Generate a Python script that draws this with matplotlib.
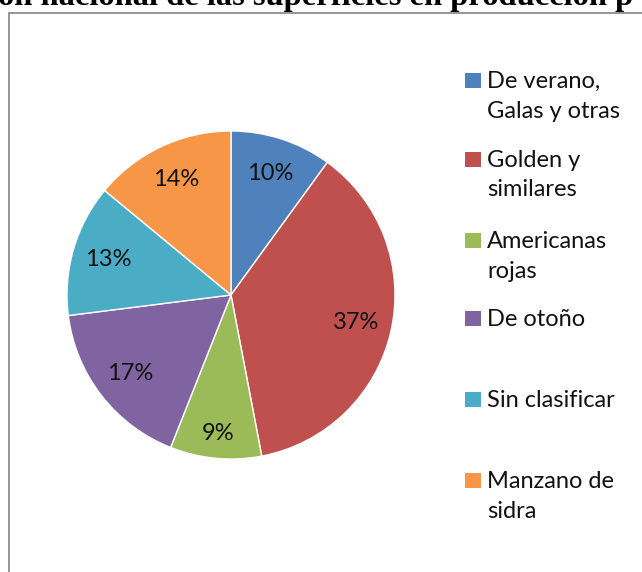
import numpy as np
import matplotlib.pyplot as plt
from matplotlib.patches import Rectangle

# superficie en producción por grupo de variedades (%)
variedades = ['De verano,\nGalas y otras', 'Golden y\nsimilares', 'Americanas\nrojas',
              'De otoño', 'Sin clasificar', 'Manzano de\nsidra']
porcentajes = [10, 37, 9, 17, 13, 14]
colores = ['#4F81BD', '#C0504D', '#9BBB59', '#8064A2', '#4BACC6', '#F79646']
titulo = 'on nacional de las superficies en producción p'

W, H = 642, 572
fig = plt.figure(figsize=(W / 100, H / 100), dpi=100)

def fx(px):
    return px / W

def fy(py):
    return 1 - py / H

# cut-off title above the chart frame
fig.text(fx(-2), fy(5), titulo, family='Liberation Serif', weight='bold',
         fontsize=23.4, ha='left', va='baseline', color='black')

# chart frame (runs past the right and bottom edges)
fig.patches.append(Rectangle((fx(9), fy(600)), fx(700), fy(13) - fy(600),
                             transform=fig.transFigure, fill=False,
                             edgecolor='#8c8c8c', lw=1.3))

# pie
cx, cy, r = 231, 295, 164
ax = fig.add_axes([fx(cx - r), fy(cy + r), fx(2 * r), (2 * r) / H])
wedges, texts, autotexts = ax.pie(
    porcentajes, colors=colores, startangle=90, counterclock=False,
    autopct='%d%%', pctdistance=0.78, radius=1,
    wedgeprops=dict(edgecolor='white', linewidth=1),
    textprops=dict(family='Lato', fontsize=17, color='#111111'))

# small slice gets its label pushed a bit further out
dist = [0.78, 0.78, 0.85, 0.78, 0.78, 0.78]
for w, t, d in zip(wedges, autotexts, dist):
    ang = np.deg2rad((w.theta1 + w.theta2) / 2)
    t.set_position((d * np.cos(ang), d * np.sin(ang)))

ax.set_xlim(-1, 1)
ax.set_ylim(-1, 1)
ax.set_aspect('equal')
ax.axis('off')

# legend, laid out by hand (first-line baselines)
leg_base = [88, 167, 248, 326, 407, 488]
for lab, col, yb in zip(variedades, colores, leg_base):
    fig.patches.append(Rectangle((fx(465), fy(yb)), fx(16), 15 / H,
                                 transform=fig.transFigure,
                                 facecolor=col, edgecolor='none'))
    for i, line in enumerate(lab.split('\n')):
        fig.text(fx(487), fy(yb + 29.5 * i), line, family='Lato', fontsize=17,
                 ha='left', va='baseline', color='#111111')

fig.savefig('out.png', dpi=100)
